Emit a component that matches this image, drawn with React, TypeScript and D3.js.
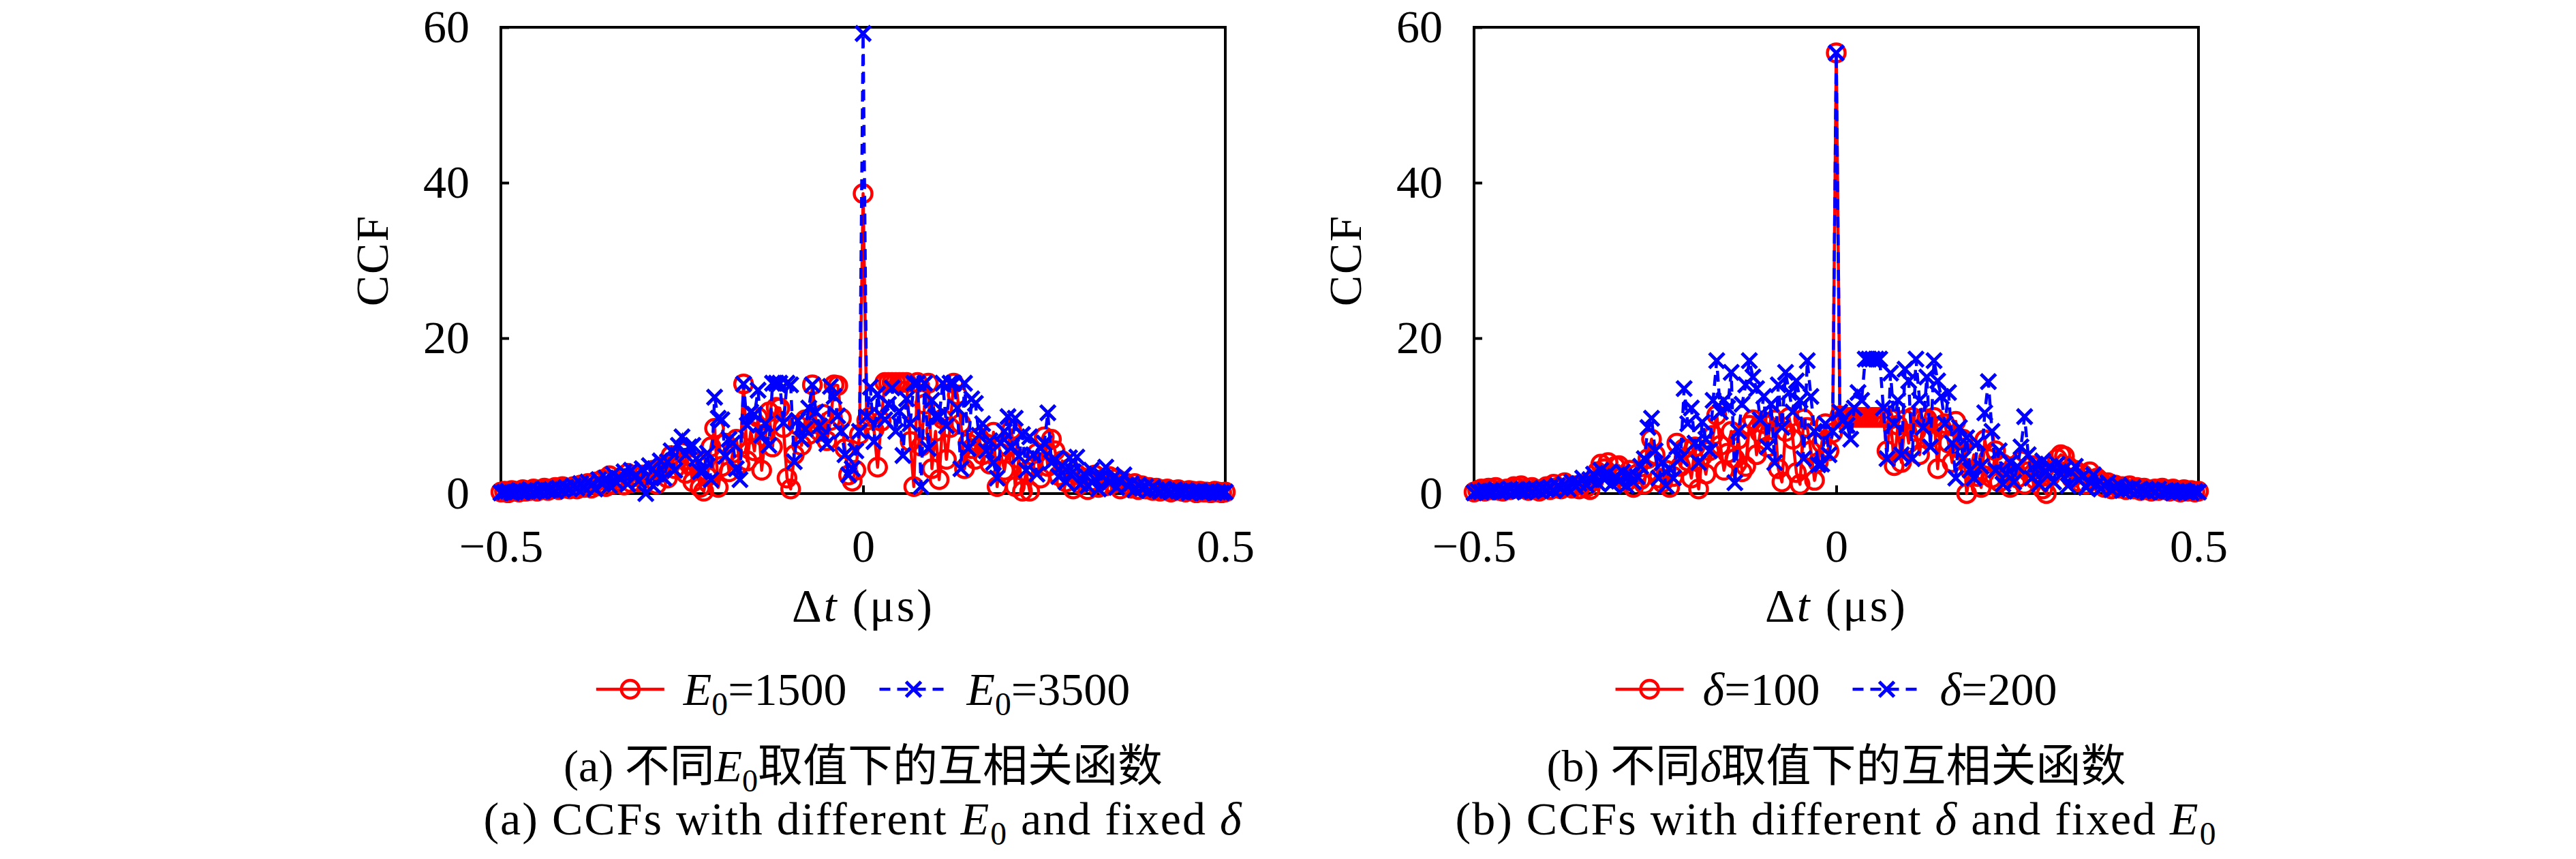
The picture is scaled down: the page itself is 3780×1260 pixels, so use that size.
import { useRef, useEffect } from "react";
import * as d3 from "d3";

// sampling of the lag axis (µs)
const dtStep = 0.005;
const dt = d3.range(201).map((i) => -0.5 + i * dtStep);

const xTicks = [-0.5, 0, 0.5];
const yTicks = [0, 20, 40, 60];

// (a) E0 = 1500, delta fixed
const ccfE1500 = [
  0.2, 0.3, 0.1, 0.4, 0.3, 0.2, 0.5, 0.3, 0.4, 0.6, 0.3, 0.5, 0.7, 0.4, 0.6, 0.8, 0.5, 0.9, 0.7, 0.6,
  0.9, 0.6, 1.1, 0.8, 1.3, 0.7, 1.5, 1.0, 1.8, 0.9, 2.3, 1.2, 1.6, 2.0, 1.1, 2.6, 1.4, 2.2, 1.5, 2.4,
  1.5, 2.4, 3.0, 1.2, 2.8, 3.6, 2.0, 4.9, 3.2, 4.5, 5.3, 2.6, 3.8, 1.5, 4.0, 0.8, 0.3, 2.2, 6.0, 8.4,
  0.8, 3.5, 6.5, 2.8, 5.2, 7.0, 3.8, 14.1, 4.2, 8.0, 5.5, 9.8, 3.0, 7.2, 10.5, 6.0, 11.1, 11.0, 8.5, 2.0,
  0.6, 5.0, 8.8, 6.2, 9.5, 7.6, 14.0, 9.0, 8.0, 10.2, 6.8, 9.4, 14.0, 13.9, 9.7, 5.8, 2.4, 1.6, 3.0, 7.6,
  38.6,
  9.4, 9.9, 8.2, 3.4, 9.3, 14.3, 14.3, 14.3, 14.3, 14.3, 14.3, 14.3, 6.7, 0.9, 14.3, 6.1, 11.5, 14.2, 3.2, 8.0,
  1.8, 9.6, 4.4, 8.5, 14.2, 12.7, 9.0, 3.2, 6.5, 5.8, 4.4, 7.2, 5.0, 6.4, 3.8, 7.9, 0.9, 5.2, 3.0, 6.0,
  8.2, 0.9, 4.5, 0.3, 2.8, 0.3, 3.5, 5.2, 2.0, 7.3, 3.5, 7.0, 5.5, 2.3, 4.2, 1.5, 3.2, 0.6, 2.5, 1.2,
  2.0, 0.5, 1.6, 2.4, 0.8, 1.8, 1.0, 2.2, 1.3, 1.9, 0.6, 1.5, 1.1, 0.7, 1.3, 0.5, 1.0, 0.6, 0.8, 0.4,
  0.7, 0.3, 0.5, 0.6, 0.2, 0.4, 0.5, 0.3, 0.2, 0.4, 0.3, 0.1, 0.3, 0.2, 0.2, 0.1, 0.3, 0.2, 0.1, 0.2,
];

// (a) E0 = 3500
const ccfE3500 = [
  0.1, 0.2, 0.3, 0.1, 0.2, 0.4, 0.2, 0.3, 0.5, 0.2, 0.4, 0.3, 0.6, 0.4, 0.5, 0.3, 0.7, 0.5, 0.8, 0.6,
  1.0, 0.7, 1.3, 0.8, 1.5, 1.1, 0.6, 1.8, 1.2, 2.0, 1.0, 2.5, 1.4, 1.9, 2.8, 1.2, 3.0, 2.2, 1.6, 3.2,
  0.0, 3.6, 1.0, 2.5, 4.2, 2.0, 4.1, 5.5, 3.0, 6.2, 7.3, 5.0, 6.0, 6.2, 4.5, 2.8, 3.0, 5.2, 1.8, 12.4,
  9.7, 9.5, 4.8, 7.0, 6.5, 3.2, 1.8, 14.1, 8.8, 10.5, 10.2, 13.3, 7.5, 9.0, 6.2, 14.2, 14.2, 14.2, 9.1, 14.2,
  14.0, 4.1, 9.4, 7.0, 8.3, 11.0, 14.0, 10.5, 8.7, 7.5, 6.4, 13.8, 12.5, 10.0, 8.0, 5.0, 2.4, 3.2, 5.5, 8.0,
  59.2,
  9.9, 13.7, 6.7, 12.8, 10.0, 9.5, 11.5, 13.6, 8.0, 10.6, 4.9, 12.2, 9.0, 14.2, 14.2, 0.9, 14.2, 5.8, 12.0, 9.9,
  9.9, 14.2, 8.7, 14.2, 14.2, 11.0, 3.2, 14.2, 5.8, 12.2, 11.6, 7.5, 9.0, 5.5, 6.8, 4.0, 2.0, 6.5, 8.0, 9.9,
  6.0, 9.7, 4.8, 7.6, 3.0, 7.3, 5.0, 2.5, 5.8, 6.5, 10.4, 4.0, 4.4, 2.2, 3.6, 1.5, 4.6, 2.8, 4.7, 1.2,
  2.5, 1.0, 3.0, 1.8, 0.6, 2.2, 3.4, 1.4, 2.0, 0.8, 1.6, 2.4, 1.0, 1.3, 0.5, 1.1, 0.7, 0.9, 0.4, 0.8,
  0.5, 0.3, 0.6, 0.4, 0.2, 0.5, 0.3, 0.2, 0.4, 0.1, 0.3, 0.2, 0.3, 0.1, 0.2, 0.3, 0.1, 0.2, 0.1, 0.2,
];

// (b) delta = 100, E0 fixed
const ccfD100 = [
  0.2, 0.4, 0.6, 0.3, 0.7, 0.5, 0.8, 0.4, 0.3, 0.6, 0.5, 0.9, 0.7, 1.0, 0.6, 0.4, 0.8, 0.5, 0.3, 0.6,
  0.9, 0.5, 1.2, 0.8, 0.6, 1.4, 0.9, 0.7, 1.0, 0.6, 1.2, 0.8, 0.5, 1.6, 2.8, 3.8, 3.2, 4.0, 2.5, 3.5,
  3.6, 2.2, 1.5, 3.0, 0.8, 2.5, 1.8, 1.2, 4.5, 7.0, 5.0, 2.0, 1.4, 3.0, 0.8, 2.2, 6.5, 3.5, 5.8, 4.2,
  2.0, 6.0, 0.6, 4.8, 2.5, 5.5, 7.5, 10.1, 6.2, 3.0, 5.2, 8.0, 4.5, 7.0, 2.8, 3.5, 8.8, 9.5, 5.0, 7.8,
  9.0, 6.0, 10.0, 9.5, 3.2, 1.5, 8.0, 9.8, 7.0, 2.7, 1.2, 9.6, 8.5, 5.5, 1.7, 4.0, 6.5, 9.0, 5.5, 7.8,
  56.7,
  10.0, 9.8, 9.8, 9.8, 9.8, 9.8, 9.8, 9.8, 9.8, 9.8, 9.8, 9.8, 9.8, 5.5, 9.6, 3.6, 8.8, 4.0, 9.5, 6.5,
  9.8, 8.0, 5.0, 9.7, 9.6, 7.2, 9.8, 3.2, 8.5, 9.0, 6.5, 4.0, 9.3, 5.8, 7.0, 0.0, 3.0, 5.0, 2.2, 0.8,
  6.9, 4.5, 2.0, 5.5, 1.5, 3.8, 2.5, 0.8, 3.5, 2.0, 4.2, 1.2, 2.8, 3.6, 1.8, 2.5, 0.6, 0.0, 2.2, 3.0,
  4.5, 5.0, 4.8, 3.5, 2.0, 3.0, 1.5, 2.5, 1.2, 2.8, 1.8, 2.0, 1.6, 0.8, 1.4, 0.6, 1.1, 0.7, 0.9, 0.5,
  1.0, 0.6, 0.8, 0.4, 0.7, 0.5, 0.3, 0.6, 0.4, 0.7, 0.5, 0.3, 0.6, 0.4, 0.2, 0.5, 0.3, 0.4, 0.2, 0.3,
];

// (b) delta = 200
const ccfD200 = [
  0.1, 0.3, 0.2, 0.4, 0.2, 0.3, 0.5, 0.2, 0.4, 0.3, 0.6, 0.3, 0.5, 0.4, 0.2, 0.5, 0.3, 0.6, 0.4, 0.7,
  0.5, 0.8, 0.4, 1.0, 0.7, 1.2, 0.6, 1.5, 0.9, 1.3, 2.0, 1.1, 1.8, 2.5, 1.4, 3.0, 1.8, 2.6, 1.2, 2.2,
  1.6, 2.8, 1.0, 2.4, 1.5, 2.2, 3.5, 4.5, 8.5, 9.7, 5.5, 2.0, 4.0, 1.0, 3.2, 2.0, 6.0, 4.5, 13.5, 9.0,
  11.0, 6.5, 4.0, 9.2, 7.0, 5.5, 12.0, 17.1, 10.5, 12.0, 11.0, 15.6, 1.4, 8.0, 11.5, 14.0, 17.1, 15.0, 13.5, 9.5,
  12.5, 6.0, 11.5, 4.0, 14.0, 8.5, 15.6, 13.0, 10.5, 14.5, 12.0, 4.5, 17.1, 12.5, 8.0, 3.7, 3.8, 9.0, 5.0, 8.0,
  56.7,
  10.5, 9.5, 8.8, 7.0, 11.0, 13.0, 12.0, 17.3, 17.3, 17.3, 17.3, 17.3, 11.0, 4.5, 15.5, 9.0, 12.0, 5.0, 16.0, 14.5,
  4.5, 17.3, 12.0, 8.5, 15.0, 6.0, 17.1, 14.5, 12.5, 9.0, 13.0, 6.5, 2.0, 8.5, 4.5, 7.2, 3.0, 2.0, 6.5, 3.5,
  10.4, 14.4, 8.0, 3.0, 5.5, 1.2, 2.5, 4.0, 1.5, 3.5, 6.0, 9.9, 5.0, 2.0, 3.8, 1.2, 4.2, 2.8, 3.5, 1.5,
  3.8, 2.5, 3.2, 1.0, 2.8, 3.5, 1.8, 2.2, 0.8, 1.5, 2.4, 1.2, 0.6, 1.0, 1.4, 0.5, 0.8, 1.1, 0.4, 0.7,
  0.5, 0.8, 0.3, 0.6, 0.4, 0.2, 0.5, 0.3, 0.6, 0.2, 0.4, 0.3, 0.1, 0.3, 0.2, 0.4, 0.2, 0.1, 0.3, 0.2,
];

type Part = { t: string; it?: boolean; sub?: boolean };

const legendA: Part[][] = [
  [{ t: "E", it: true }, { t: "0", sub: true }, { t: "=1500" }],
  [{ t: "E", it: true }, { t: "0", sub: true }, { t: "=3500" }],
];
const legendB: Part[][] = [
  [{ t: "δ", it: true }, { t: "=100" }],
  [{ t: "δ", it: true }, { t: "=200" }],
];
const captionA: Part[][] = [
  [{ t: "(a) 不同" }, { t: "E", it: true }, { t: "0", sub: true }, { t: "取值下的互相关函数" }],
  [{ t: "(a) CCFs with different " }, { t: "E", it: true }, { t: "0", sub: true }, { t: " and fixed " }, { t: "δ", it: true }],
];
const captionB: Part[][] = [
  [{ t: "(b) 不同" }, { t: "δ", it: true }, { t: "取值下的互相关函数" }],
  [{ t: "(b) CCFs with different " }, { t: "δ", it: true }, { t: " and fixed " }, { t: "E", it: true }, { t: "0", sub: true }],
];

const panels = [
  { left: 735, series: [ccfE1500, ccfE3500], legend: legendA, caption: captionA },
  { left: 2163, series: [ccfD100, ccfD200], legend: legendB, caption: captionB },
];

const PLOT_W = 1063;
const PLOT_TOP = 40;
const PLOT_H = 684;
const FONT = "'Liberation Serif', 'Noto Sans CJK SC', serif";
const FS = 68;
const RED = "#ff0000";
const BLUE = "#0000ff";

function richText(sel: any, parts: Part[], fs: number) {
  parts.forEach((p, k) => {
    const ts = sel.append("tspan").text(p.t);
    if (p.it) ts.attr("font-style", "italic");
    if (p.sub) ts.attr("font-size", fs * 0.7).attr("dy", fs * 0.22);
    else if (k > 0 && parts[k - 1].sub) ts.attr("dy", -fs * 0.22);
  });
}

const crossPath = (s: number) => `M${-s},${-s}L${s},${s}M${-s},${s}L${s},${-s}`;

function drawPanel(svg: any, p: any) {
  const x = d3.scaleLinear().domain([-0.5, 0.5]).range([p.left, p.left + PLOT_W]);
  const y = d3.scaleLinear().domain([0, 60]).range([PLOT_TOP + PLOT_H, PLOT_TOP]);
  const cx = p.left + PLOT_W / 2;

  const g = svg.append("g").attr("font-family", FONT).attr("font-size", FS);

  // axes, ticks pointing inward
  const yAxis = g.append("g").attr("transform", `translate(${p.left},0)`)
    .call(d3.axisLeft(y).tickValues(yTicks).tickSize(-12).tickPadding(46).tickFormat(d3.format("d")));
  const xAxis = g.append("g").attr("transform", `translate(0,${PLOT_TOP + PLOT_H})`)
    .call(d3.axisBottom(x).tickValues(xTicks).tickSize(-12).tickPadding(52)
      .tickFormat((d: any) => (d === 0 ? "0" : d3.format(".1f")(d))));
  [yAxis, xAxis].forEach((a) => {
    a.select(".domain").remove();
    a.selectAll("line").attr("stroke", "#000").attr("stroke-width", 4);
    a.selectAll("text").attr("font-family", FONT).attr("font-size", FS).attr("fill", "#000");
  });

  g.append("rect")
    .attr("x", p.left).attr("y", PLOT_TOP)
    .attr("width", PLOT_W).attr("height", PLOT_H)
    .attr("fill", "none").attr("stroke", "#000").attr("stroke-width", 4);

  g.append("text").attr("transform", `translate(${p.left - 166},${PLOT_TOP + PLOT_H / 2}) rotate(-90)`)
    .attr("text-anchor", "middle").attr("letter-spacing", 2).text("CCF");

  const xl = g.append("text").attr("x", cx).attr("y", 911).attr("text-anchor", "middle")
    .attr("letter-spacing", 3);
  richText(xl, [{ t: "Δ" }, { t: "t", it: true }, { t: " (μs)" }], FS);

  const line = d3.line<number>().x((_, i) => x(dt[i])).y((d) => y(d));
  const [redData, blueData] = p.series;

  // red, solid with circles
  g.append("path").datum(redData).attr("d", line)
    .attr("fill", "none").attr("stroke", RED).attr("stroke-width", 4.5).attr("stroke-linejoin", "round");
  g.append("g").selectAll("circle").data(redData).join("circle")
    .attr("cx", (_: any, i: number) => x(dt[i])).attr("cy", (d: number) => y(d)).attr("r", 13)
    .attr("fill", "none").attr("stroke", RED).attr("stroke-width", 4.5);

  // blue, dashed with crosses
  g.append("path").datum(blueData).attr("d", line)
    .attr("fill", "none").attr("stroke", BLUE).attr("stroke-width", 4.5).attr("stroke-dasharray", "16,10");
  g.append("g").selectAll("path").data(blueData).join("path")
    .attr("transform", (d: number, i: number) => `translate(${x(dt[i])},${y(d)})`)
    .attr("d", crossPath(11)).attr("fill", "none").attr("stroke", BLUE).attr("stroke-width", 5);

  // legend
  const seg = 100, gap = 28, itemGap = 48, ly = 1011, tb = 1034;
  const leg = g.append("g");
  const t1 = leg.append("text").attr("y", tb);
  richText(t1, p.legend[0], FS);
  const t2 = leg.append("text").attr("y", tb);
  richText(t2, p.legend[1], FS);
  const w1 = (t1.node() as SVGTextElement).getComputedTextLength();
  const w2 = (t2.node() as SVGTextElement).getComputedTextLength();
  const total = seg + gap + w1 + itemGap + seg + gap + w2;
  let sx = cx - total / 2;
  leg.append("line").attr("x1", sx).attr("x2", sx + seg).attr("y1", ly).attr("y2", ly)
    .attr("stroke", RED).attr("stroke-width", 4.5);
  leg.append("circle").attr("cx", sx + seg / 2).attr("cy", ly).attr("r", 13)
    .attr("fill", "none").attr("stroke", RED).attr("stroke-width", 4.5);
  t1.attr("x", sx + seg + gap);
  sx += seg + gap + w1 + itemGap;
  leg.append("line").attr("x1", sx).attr("x2", sx + seg).attr("y1", ly).attr("y2", ly)
    .attr("stroke", BLUE).attr("stroke-width", 4.5).attr("stroke-dasharray", "16,10");
  leg.append("path").attr("transform", `translate(${sx + seg / 2},${ly})`).attr("d", crossPath(11))
    .attr("fill", "none").attr("stroke", BLUE).attr("stroke-width", 5);
  t2.attr("x", sx + seg + gap);

  // captions: Chinese line at natural spacing, English line a little wider
  [1146, 1224].forEach((by, k) => {
    const c = g.append("text").attr("x", cx).attr("y", by).attr("text-anchor", "middle");
    if (k === 0) c.attr("font-size", 66);
    else c.attr("letter-spacing", 2);
    richText(c, p.caption[k], k === 0 ? 66 : FS);
  });
}

export default function App() {
  const svgRef = useRef<SVGSVGElement>(null);

  useEffect(() => {
    const svg = d3.select(svgRef.current);
    svg.selectAll("*").remove();
    panels.forEach((p) => drawPanel(svg, p));
  }, []);

  return (
    <svg
      ref={svgRef}
      width={3780}
      height={1260}
      style={{ position: "absolute", left: 0, top: 0, background: "#fff" }}
    />
  );
}
